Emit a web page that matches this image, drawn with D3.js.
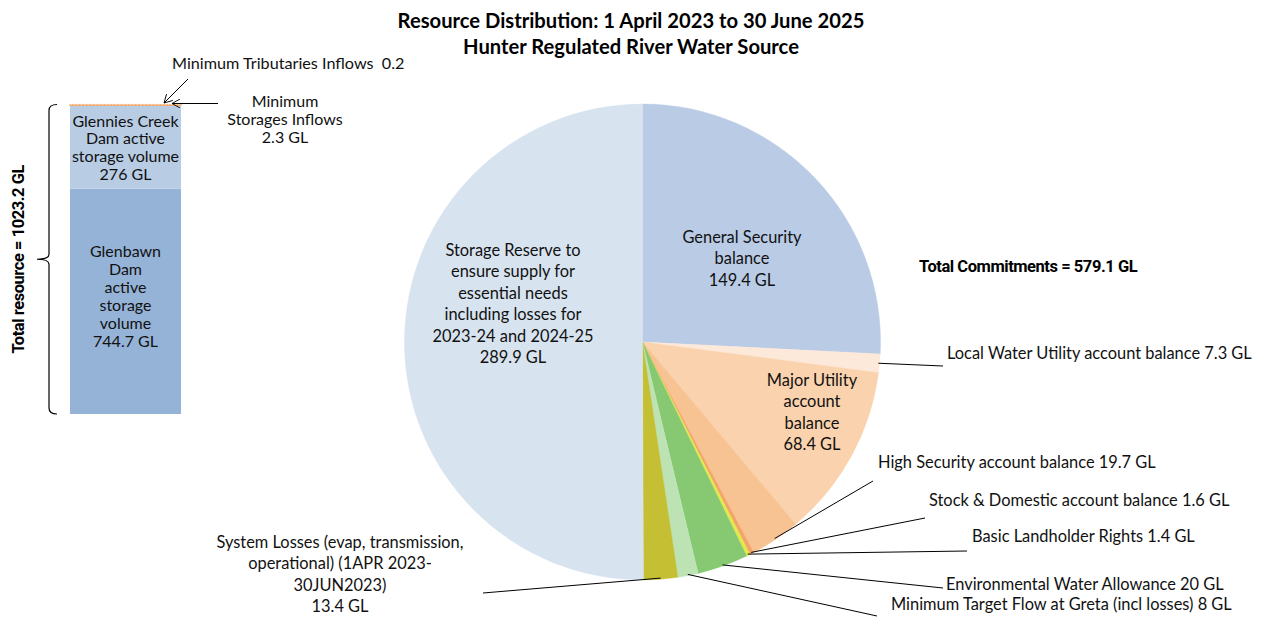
<!DOCTYPE html>
<html>
<head>
<meta charset="utf-8">
<script src="https://cdn.jsdelivr.net/npm/d3@7"></script>
<style>
 body{margin:0;background:#fff;}
 svg{display:block;font-family:Lato,"Open Sans",sans-serif;}
</style>
</head>
<body>
<svg id="chart" width="1264" height="617"></svg>
<script>
(function()
{
 "use strict";
 // pie: commitments, clockwise from 12 o'clock
 var sliceNames=["General Security balance","Local Water Utility account balance","Major Utility account balance","High Security account balance","Stock & Domestic account balance","Basic Landholder Rights","Environmental Water Allowance","Minimum Target Flow at Greta (incl losses)","System Losses (evap, transmission, operational) (1APR 2023-30JUN2023)","Storage Reserve to ensure supply for essential needs including losses for 2023-24 and 2024-25"];
 var sliceValues=[149.4,7.3,68.4,19.7,1.6,1.4,20,8,13.4,289.9];
 var sliceLabels=[
  ["General Security","balance","149.4 GL"],
  ["Local Water Utility account balance 7.3 GL"],
  ["Major Utility","account","balance","68.4 GL"],
  ["High Security account balance 19.7 GL"],
  ["Stock & Domestic account balance 1.6 GL"],
  ["Basic Landholder Rights 1.4 GL"],
  ["Environmental Water Allowance 20 GL"],
  ["Minimum Target Flow at Greta (incl losses) 8 GL"],
  ["System Losses (evap, transmission,","operational) (1APR 2023-","30JUN2023)","13.4 GL"],
  ["Storage Reserve to","ensure supply for","essential needs","including losses for","2023-24 and 2024-25","289.9 GL"]
 ];
 // stacked bar: resource, bottom to top
 var barNames=["Glenbawn Dam active storage volume","Glennies Creek Dam active storage volume","Minimum Storages Inflows","Minimum Tributaries Inflows"];
 var barValues=[744.7,276,2.3,0.2];
 var barLabels=[
  ["Glenbawn","Dam","active","storage","volume","744.7 GL"],
  ["Glennies Creek","Dam active","storage volume","276 GL"],
  ["Minimum","Storages Inflows","2.3 GL"],
  ["Minimum Tributaries Inflows  0.2"]
 ];
 var titleLines=["Resource Distribution: 1 April 2023 to 30 June 2025","Hunter Regulated River Water Source"];
 var totalCommitments="Total Commitments = 579.1 GL";
 var totalResource="Total resource = 1023.2 GL";

 var sliceColors=["#b9cbe5","#fde9d9","#fad3ae","#f8c393","#f2a469","#e4e94a","#86c972","#bde3b5","#c4bf33","#d7e3ef"];
 var barColors=["#95b3d7","#b8cce4","#f4a460","#fbd4b4"];

 // layout: label anchors (inside labels centred, outside labels start + leader end)
 var pieLayout={cx:642.5,cy:342,r:238};
 var labelPos=[
  {x:742,y:236,inside:true},
  {x:947,y:352,lx:943,ly:366},
  {x:812,y:379,inside:true},
  {x:878,y:461,lx:873,ly:481},
  {x:929,y:499,lx:925,ly:518},
  {x:972,y:535,lx:967,ly:551},
  {x:946,y:583,lx:943,ly:588},
  {x:891,y:603,lx:877,ly:616},
  {x:340,y:541,lx:483,ly:593,centre:true},
  {x:513,y:249,inside:true}
 ];
 var lineH=21.5,labelSize=16.4,boldFont="Roboto,'Liberation Sans',sans-serif";

 var svg=d3.select("#chart");

 // title
 svg.append("g").selectAll("text").data(titleLines).join("text")
  .attr("x",631).attr("y",function(d,i){return 20+i*26;})
  .attr("text-anchor","middle").attr("dominant-baseline","central")
  .attr("font-weight","bold").attr("font-size",20.2).attr("fill","#000")
  .text(function(d){return d;});

 // ---- pie ----
 var pie=d3.pie().sort(null).value(function(d){return d;});
 var arcs=pie(sliceValues);
 var arc=d3.arc().innerRadius(0).outerRadius(pieLayout.r);
 var edge=d3.arc().innerRadius(pieLayout.r*0.995).outerRadius(pieLayout.r*0.995);
 var gp=svg.append("g").attr("transform","translate("+pieLayout.cx+","+pieLayout.cy+")");
 gp.selectAll("path").data(arcs).join("path")
  .attr("d",arc)
  .attr("fill",function(d,i){return sliceColors[i];})
  .attr("stroke",function(d,i){return sliceColors[i];}).attr("stroke-width",0.4);

 // leader lines
 arcs.forEach(function(a,i)
 {
  var p=labelPos[i],c;
  if(p.inside)return;
  c=edge.centroid(a);
  svg.append("line")
   .attr("x1",pieLayout.cx+c[0]).attr("y1",pieLayout.cy+c[1])
   .attr("x2",p.lx).attr("y2",p.ly)
   .attr("stroke","#000").attr("stroke-width",1);
 });

 // slice labels
 sliceLabels.forEach(function(lines,i)
 {
  var p=labelPos[i],anchor=(p.inside||p.centre)?"middle":"start";
  svg.append("g").selectAll("text").data(lines).join("text")
   .attr("x",p.x).attr("y",function(d,k){return p.y+k*lineH;})
   .attr("text-anchor",anchor).attr("dominant-baseline","central")
   .attr("font-size",labelSize).attr("fill","#111")
   .text(function(d){return d;});
 });

 svg.append("text").attr("x",919).attr("y",266)
  .attr("dominant-baseline","central")
  .attr("font-family",boldFont)
  .attr("font-weight","bold").attr("font-size",16.5).attr("letter-spacing",-0.45)
  .text(totalCommitments);

 // ---- stacked bar ----
 var total=d3.sum(barValues);
 var y=d3.scaleLinear().domain([0,total]).range([414,104.5]);
 var x=d3.scaleBand().domain(["resource"]).range([70,181]).padding(0);
 var stack=[],acc=0;
 barValues.forEach(function(v,i){stack.push({i:i,y0:acc,y1:acc+v});acc+=v;});
 var gb=svg.append("g");
 gb.selectAll("rect").data(stack).join("rect")
  .attr("x",x("resource")).attr("width",x.bandwidth())
  .attr("y",function(d){return y(d.y1);})
  .attr("height",function(d){return Math.max(0.3,y(d.y0)-y(d.y1));})
  .attr("fill",function(d){return barColors[d.i];})
  .attr("stroke",function(d){return d.i>=2?barColors[d.i]:"none";})
  .attr("stroke-width",function(d){return d.i===2?1.2:0.8;})
  .attr("stroke-dasharray",function(d){return d.i===3?"2,1.5":null;});

 var cxBar=x("resource")+x.bandwidth()/2;
 // Glenbawn label
 gb.append("g").selectAll("text").data(barLabels[0]).join("text")
  .attr("x",cxBar).attr("y",function(d,k){return 250+k*18.1;})
  .attr("text-anchor","middle").attr("dominant-baseline","central")
  .attr("font-size",16).attr("fill","#111").text(function(d){return d;});
 // Glennies label
 gb.append("g").selectAll("text").data(barLabels[1]).join("text")
  .attr("x",cxBar).attr("y",function(d,k){return 120+k*17.8;})
  .attr("text-anchor","middle").attr("dominant-baseline","central")
  .attr("font-size",16).attr("fill","#111").text(function(d){return d;});
 // Minimum storages inflows
 gb.append("g").selectAll("text").data(barLabels[2]).join("text")
  .attr("x",285).attr("y",function(d,k){return 100+k*18;})
  .attr("text-anchor","middle").attr("dominant-baseline","central")
  .attr("font-size",16).attr("fill","#111").text(function(d){return d;});
 // Minimum tributaries inflows
 gb.append("text").attr("x",172).attr("y",62)
  .attr("dominant-baseline","central").attr("font-size",16.2).attr("fill","#111")
  .attr("xml:space","preserve").style("white-space","pre")
  .text(barLabels[3][0]);

 // arrows
 var defs=svg.append("defs");
 defs.append("marker").attr("id","arr").attr("viewBox","0 0 10 10")
  .attr("refX",9).attr("refY",5).attr("markerWidth",9).attr("markerHeight",9)
  .attr("markerUnits","userSpaceOnUse").attr("orient","auto")
  .append("path").attr("d","M0,0L9,5L0,10").attr("fill","none").attr("stroke","#000").attr("stroke-width",1);
 svg.append("line").attr("x1",188).attr("y1",79).attr("x2",164).attr("y2",103)
  .attr("stroke","#000").attr("marker-end","url(#arr)");
 svg.append("line").attr("x1",218).attr("y1",103.5).attr("x2",172).attr("y2",103.5)
  .attr("stroke","#000").attr("marker-end","url(#arr)");

 // brace
 var top=y(total),bot=y(0),mid=(top+bot)/2;
 svg.append("path")
  .attr("d","M57,"+top+"Q49,"+top+" 49,"+(top+6)+"L49,"+(mid-5)+"Q49,"+mid+" 37,"+mid+"Q49,"+mid+" 49,"+(mid+5)+"L49,"+(bot-6)+"Q49,"+bot+" 57,"+bot)
  .attr("fill","none").attr("stroke","#000").attr("stroke-width",1.2);
 svg.append("text")
  .attr("transform","translate(18,"+mid+") rotate(-90)")
  .attr("text-anchor","middle").attr("dominant-baseline","central")
  .attr("font-family",boldFont)
  .attr("font-weight","bold").attr("font-size",16.5).attr("letter-spacing",-0.45)
  .text(totalResource);
}());
</script>
</body>
</html>
